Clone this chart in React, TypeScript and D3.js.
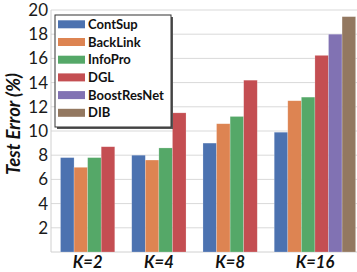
import React from 'react';
import * as d3 from 'd3';

// chart data
const groups = ['K=2', 'K=4', 'K=8', 'K=16'];
const methods = ['ContSup', 'BackLink', 'InfoPro', 'DGL', 'BoostResNet', 'DIB'];
const colors = ['#4C72B0', '#DD8452', '#55A868', '#C44E52', '#8172B3', '#937860'];
const ContSup = [7.8, 8.0, 9.0, 9.9];
const BackLink = [7.0, 7.6, 10.6, 12.5];
const InfoPro = [7.8, 8.6, 11.2, 12.8];
const DGL = [8.7, 11.5, 14.2, 16.25];
const BoostResNet = [null, null, null, 18.0];
const DIB = [null, null, null, 19.45];
const yTicks = [2, 4, 6, 8, 10, 12, 14, 16, 18, 20];

const series = [ContSup, BackLink, InfoPro, DGL, BoostResNet, DIB];

const W = 357, H = 272;
const left = 51, right = 357, top = 10, bottom = 252;

export default function App() {
  const y = d3.scaleLinear().domain([0, 20]).range([bottom, top]);

  // bars per group (missing values are skipped, groups packed)
  const padL = 0.7, gap = 1.25, padR = 0.1;
  const counts = groups.map((_, gi) => series.filter(s => s[gi] != null).length);
  const total = padL + d3.sum(counts) + gap * (groups.length - 1) + padR;
  const x = d3.scaleLinear().domain([0, total]).range([left, right]);
  const unit = x(1) - x(0);

  const bars: any[] = [];
  const labels: any[] = [];
  let pos = padL;
  groups.forEach((g, gi) => {
    const start = pos;
    series.forEach((s, si) => {
      const v = s[gi];
      if (v == null) return;
      bars.push({ x: x(pos), v, color: colors[si], key: g + si });
      pos += 1;
    });
    labels.push({ g, cx: x((start + pos) / 2) });
    pos += gap;
  });

  const font = 'Lato, "Open Sans", sans-serif';

  return (
    <svg width={W} height={H} style={{ position: 'absolute', left: 0, top: 0 }}>
      <rect width={W} height={H} fill="#fff" />
      {yTicks.map(t => (
        <line key={t} x1={left} x2={right} y1={y(t)} y2={y(t)} stroke="#d9d9d9" strokeWidth={1} />
      ))}
      <line x1={left} x2={left} y1={top} y2={bottom} stroke="#d0d0d0" />
      <line x1={left} x2={right} y1={bottom} y2={bottom} stroke="#d0d0d0" />
      {bars.map(b => (
        <rect key={b.key} x={b.x} width={unit} y={y(b.v)} height={y(0) - y(b.v)}
          fill={b.color} stroke="#fff" strokeOpacity={0.35} strokeWidth={0.6} />
      ))}
      {yTicks.map(t => (
        <text key={t} x={left - 3} y={y(t)} dy="0.35em" textAnchor="end"
          fontFamily={font} fontSize={17} fill="#1a1a1a">{t}</text>
      ))}
      {labels.map(l => (
        <text key={l.g} x={l.cx} y={268} textAnchor="middle" fontFamily={font}
          fontSize={16.5} fontWeight="bold" fontStyle="italic" fill="#111">{l.g}</text>
      ))}
      <text transform={`translate(20,124) rotate(-90)`} textAnchor="middle"
        fontFamily={font} fontSize={18.5} fontWeight="bold" fontStyle="italic" fill="#111">Test Error (%)</text>
      {/* legend */}
      <rect x={57} y={17} width={116} height={112} fill="#555" />
      <rect x={55} y={15} width={116} height={112} fill="#fff" stroke="#333" strokeWidth={1} />
      {methods.map((m, i) => (
        <g key={m} transform={`translate(58,${24.3 + i * 17.7})`}>
          <rect x={0} y={-4} width={27} height={8} fill={colors[i]} />
          <text x={30} y={0} dy="0.36em" fontFamily={font} fontSize={13} fontWeight="bold" fill="#111">{m}</text>
        </g>
      ))}
    </svg>
  );
}
